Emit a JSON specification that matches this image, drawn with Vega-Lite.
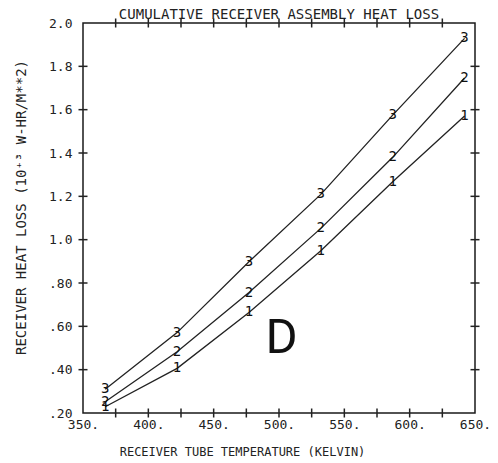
{
  "$schema": "https://vega.github.io/schema/vega-lite/v6.json",
  "width": 392,
  "height": 390,
  "autosize": "none",
  "padding": {"left": 83, "top": 23, "right": 23, "bottom": 50},
  "background": "white",
  "config": {
    "view": {"stroke": "#1a1a1a", "strokeWidth": 1.5},
    "font": "DejaVu Sans Mono"
  },
  "title": {
    "text": "CUMULATIVE RECEIVER ASSEMBLY HEAT LOSS",
    "font": "DejaVu Sans Mono",
    "fontSize": 14,
    "fontWeight": "normal",
    "color": "#222222",
    "anchor": "middle",
    "offset": -5
  },
  "datasets": {
    "curves": [
      {"temp": 367, "loss": 0.229, "curve": "1"},
      {"temp": 422, "loss": 0.406, "curve": "1"},
      {"temp": 477, "loss": 0.664, "curve": "1"},
      {"temp": 532, "loss": 0.949, "curve": "1"},
      {"temp": 587, "loss": 1.267, "curve": "1"},
      {"temp": 642, "loss": 1.571, "curve": "1"},
      {"temp": 367, "loss": 0.252, "curve": "2"},
      {"temp": 422, "loss": 0.483, "curve": "2"},
      {"temp": 477, "loss": 0.756, "curve": "2"},
      {"temp": 532, "loss": 1.052, "curve": "2"},
      {"temp": 587, "loss": 1.380, "curve": "2"},
      {"temp": 642, "loss": 1.746, "curve": "2"},
      {"temp": 367, "loss": 0.310, "curve": "3"},
      {"temp": 422, "loss": 0.571, "curve": "3"},
      {"temp": 477, "loss": 0.898, "curve": "3"},
      {"temp": 532, "loss": 1.209, "curve": "3"},
      {"temp": 587, "loss": 1.575, "curve": "3"},
      {"temp": 642, "loss": 1.929, "curve": "3"}
    ],
    "tag": [{"temp": 502, "loss": 0.548, "label": "D"}],
    "xTicks": [
      {"temp": 375, "loss": 0.2}, {"temp": 400, "loss": 0.2}, {"temp": 425, "loss": 0.2},
      {"temp": 450, "loss": 0.2}, {"temp": 475, "loss": 0.2}, {"temp": 500, "loss": 0.2},
      {"temp": 525, "loss": 0.2}, {"temp": 550, "loss": 0.2}, {"temp": 575, "loss": 0.2},
      {"temp": 600, "loss": 0.2}, {"temp": 625, "loss": 0.2},
      {"temp": 375, "loss": 2.0}, {"temp": 400, "loss": 2.0}, {"temp": 425, "loss": 2.0},
      {"temp": 450, "loss": 2.0}, {"temp": 475, "loss": 2.0}, {"temp": 500, "loss": 2.0},
      {"temp": 525, "loss": 2.0}, {"temp": 550, "loss": 2.0}, {"temp": 575, "loss": 2.0},
      {"temp": 600, "loss": 2.0}, {"temp": 625, "loss": 2.0}
    ],
    "yTicks": [
      {"temp": 350, "loss": 0.4}, {"temp": 350, "loss": 0.6}, {"temp": 350, "loss": 0.8},
      {"temp": 350, "loss": 1.0}, {"temp": 350, "loss": 1.2}, {"temp": 350, "loss": 1.4},
      {"temp": 350, "loss": 1.6}, {"temp": 350, "loss": 1.8},
      {"temp": 650, "loss": 0.4}, {"temp": 650, "loss": 0.6}, {"temp": 650, "loss": 0.8},
      {"temp": 650, "loss": 1.0}, {"temp": 650, "loss": 1.2}, {"temp": 650, "loss": 1.4},
      {"temp": 650, "loss": 1.6}, {"temp": 650, "loss": 1.8}
    ]
  },
  "layer": [
    {
      "data": {"name": "curves"},
      "mark": {"type": "line", "color": "#222222", "strokeWidth": 1.3},
      "encoding": {
        "x": {
          "field": "temp",
          "type": "quantitative",
          "scale": {"domain": [350, 650], "nice": false, "zero": false},
          "axis": {
            "orient": "bottom",
            "title": "RECEIVER TUBE TEMPERATURE (KELVIN)",
            "titleFont": "DejaVu Sans Mono",
            "titleFontSize": 12,
            "titleFontWeight": "normal",
            "titleColor": "#222222",
            "titlePadding": 15,
            "titleX": 159,
            "titleAlign": "center",
            "values": [350, 400, 450, 500, 550, 600, 650],
            "labelExpr": "datum.value + '.'",
            "labelFont": "DejaVu Sans Mono",
            "labelFontSize": 13,
            "labelColor": "#222222",
            "labelDx": 4,
            "labelPadding": 5,
            "labelFlush": false,
            "labelOverlap": false,
            "ticks": false,
            "domain": false,
            "grid": false
          }
        },
        "y": {
          "field": "loss",
          "type": "quantitative",
          "scale": {"domain": [0.2, 2.0], "nice": false, "zero": false},
          "axis": {
            "orient": "left",
            "title": "RECEIVER HEAT LOSS (10⁺³ W-HR/M**2)",
            "titleFont": "DejaVu Sans Mono",
            "titleFontSize": 14,
            "titleFontWeight": "normal",
            "titleColor": "#222222",
            "titlePadding": 20,
            "titleY": 184,
            "titleBaseline": "bottom",
            "values": [0.2, 0.4, 0.6, 0.8, 1.0, 1.2, 1.4, 1.6, 1.8, 2.0],
            "labelExpr": "datum.value >= 1 ? format(datum.value, '.1f') : replace(format(datum.value, '.2f'), '0.', '.')",
            "labelFont": "DejaVu Sans Mono",
            "labelFontSize": 13,
            "labelColor": "#222222",
            "labelPadding": 11,
            "labelFlush": false,
            "labelOverlap": false,
            "ticks": false,
            "domain": false,
            "grid": false
          }
        },
        "detail": {"field": "curve"}
      }
    },
    {
      "data": {"name": "xTicks"},
      "mark": {"type": "tick", "orient": "vertical", "size": 9, "thickness": 1.5, "color": "#222222", "opacity": 1},
      "encoding": {
        "x": {"field": "temp", "type": "quantitative"},
        "y": {"field": "loss", "type": "quantitative"}
      }
    },
    {
      "data": {"name": "yTicks"},
      "mark": {"type": "tick", "orient": "horizontal", "size": 9, "thickness": 1.5, "color": "#222222", "opacity": 1},
      "encoding": {
        "x": {"field": "temp", "type": "quantitative"},
        "y": {"field": "loss", "type": "quantitative"}
      }
    },
    {
      "data": {"name": "curves"},
      "mark": {"type": "text", "font": "DejaVu Sans Mono", "fontSize": 14, "color": "#111111", "align": "center", "baseline": "middle"},
      "encoding": {
        "x": {"field": "temp", "type": "quantitative"},
        "y": {"field": "loss", "type": "quantitative"},
        "text": {"field": "curve"}
      }
    },
    {
      "data": {"name": "tag"},
      "mark": {"type": "text", "font": "Roboto", "fontSize": 49, "color": "#111111", "align": "center", "baseline": "middle"},
      "encoding": {
        "x": {"field": "temp", "type": "quantitative"},
        "y": {"field": "loss", "type": "quantitative"},
        "text": {"field": "label"}
      }
    }
  ]
}
